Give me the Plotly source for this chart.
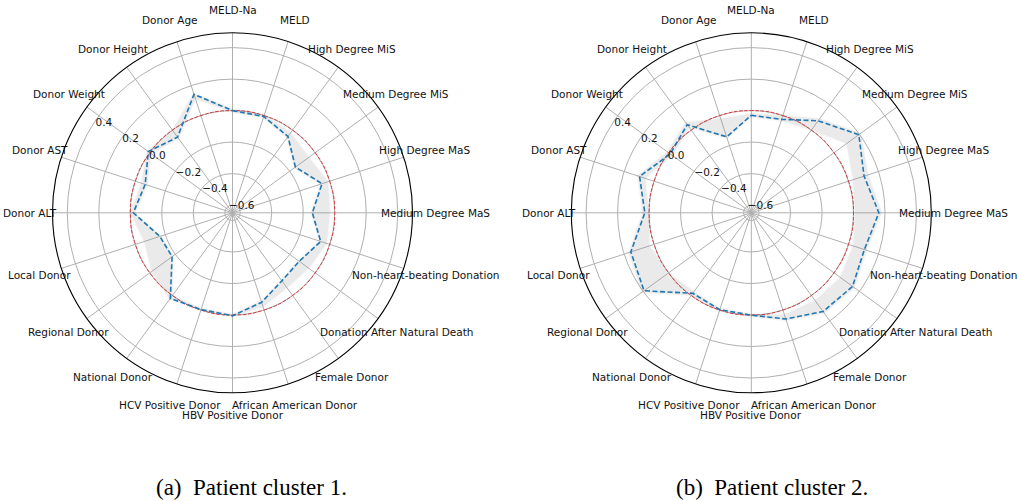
import math
import plotly.graph_objects as go

# ---------------- data ----------------
categories = [
    "MELD-Na", "MELD", "High Degree MiS", "Medium Degree MiS", "High Degree MaS",
    "Medium Degree MaS", "Non-heart-beating Donation", "Donation After Natural Death",
    "Female Donor", "African American Donor", "HBV Positive Donor", "HCV Positive Donor",
    "National Donor", "Regional Donor", "Local Donor", "Donor ALT", "Donor AST",
    "Donor Weight", "Donor Height", "Donor Age",
]

cluster1_mean = [0.000, -0.006, -0.050, -0.155, -0.051, -0.142, -0.060, -0.125, -0.115, -0.051,
                 0.005, -0.003, 0.023, -0.175, -0.164, -0.019, -0.066, 0.012, -0.055, 0.142]
cluster1_low = [-0.010, -0.015, -0.060, -0.165, -0.060, -0.150, -0.070, -0.132, -0.122, -0.060,
                -0.005, -0.010, 0.000, -0.182, -0.172, -0.030, -0.080, -0.010, -0.065, 0.110]
cluster1_high = [0.010, 0.005, -0.020, -0.050, -0.010, -0.030, -0.020, -0.050, -0.060, -0.020,
                 0.010, 0.005, 0.030, -0.015, -0.060, 0.000, -0.040, 0.020, 0.000, 0.150]

cluster2_mean = [-0.030, -0.025, 0.073, 0.195, 0.104, 0.161, 0.106, 0.146, 0.126, 0.060,
                 0.001, -0.002, -0.017, 0.193, 0.155, 0.027, 0.097, -0.013, 0.043, -0.142]
cluster2_low = [-0.040, -0.035, 0.000, 0.100, 0.030, 0.010, 0.030, 0.050, 0.040, 0.030,
                -0.005, -0.010, -0.030, 0.000, 0.030, 0.000, 0.060, -0.030, 0.020, -0.150]
cluster2_high = [-0.020, 0.000, 0.090, 0.210, 0.130, 0.180, 0.120, 0.160, 0.140, 0.070,
                 0.010, 0.010, 0.000, 0.210, 0.170, 0.040, 0.110, 0.010, 0.060, -0.020]

reference_level = 0.0
radial_ticks = [-0.6, -0.4, -0.2, 0.0, 0.2, 0.4]
radial_ticktext = ["\u22120.6", "\u22120.4", "\u22120.2", "0.0", "0.2", "0.4"]
radial_range = [-0.649, 0.494]
captions = ["(a)\u00a0 Patient cluster 1.", "(b)\u00a0 Patient cluster 2."]

# ---------------- layout geometry ----------------
W, H = 1019, 501
centers = [(232.5, 212.8), (751.3, 212.8)]
R = 180.0
label_R = 202.5
caption_y = 487.5
caption_x = [251.0, 772.0]

TEXT_FONT = dict(family="DejaVu Sans", size=10.5, color="#111111")

fig = go.Figure()

def closed(seq):
    return list(seq) + [seq[0]]

for k, (mean, low, high) in enumerate([(cluster1_mean, cluster1_low, cluster1_high),
                                       (cluster2_mean, cluster2_low, cluster2_high)]):
    sub = "polar" if k == 0 else "polar2"
    th = closed(categories)
    # uncertainty band (ring between low and high)
    fig.add_trace(go.Scatterpolar(
        r=closed(high) + closed(low)[::-1], theta=th + th[::-1],
        mode="lines", line=dict(width=0, color="rgba(0,0,0,0)"),
        fill="toself", fillcolor="rgba(140,140,140,0.13)",
        subplot=sub, showlegend=False, hoverinfo="skip"))
    # softer outer halo to mimic blurred edge
    fig.add_trace(go.Scatterpolar(
        r=closed([h + 0.008 for h in high]) + closed([l - 0.008 for l in low])[::-1],
        theta=th + th[::-1],
        mode="lines", line=dict(width=0, color="rgba(0,0,0,0)"),
        fill="toself", fillcolor="rgba(140,140,140,0.05)",
        subplot=sub, showlegend=False, hoverinfo="skip"))
    # reference circle at 0
    fig.add_trace(go.Scatterpolar(
        r=closed([reference_level] * len(categories)), theta=th,
        mode="lines", line=dict(color="rgba(214,39,40,0.85)", width=1, dash="3.7px,1.6px",
                                shape="spline", smoothing=1.3),
        subplot=sub, showlegend=False, hoverinfo="skip"))
    # mean profile
    fig.add_trace(go.Scatterpolar(
        r=closed(mean), theta=th,
        mode="lines", line=dict(color="#1f77b4", width=1.6, dash="5px,2.5px"),
        subplot=sub, showlegend=False))

def polar_layout(cx, cy):
    return dict(
        domain=dict(x=[(cx - R) / W, (cx + R) / W], y=[(H - cy - R) / H, (H - cy + R) / H]),
        bgcolor="white",
        angularaxis=dict(type="category", categoryarray=categories, direction="clockwise",
                         rotation=90, showticklabels=False, ticks="",
                         gridcolor="#b0b0b0", gridwidth=0.8,
                         showline=True, linecolor="black", linewidth=1.1),
        radialaxis=dict(range=radial_range, tickvals=radial_ticks, ticktext=radial_ticktext,
                        angle=148, tickangle=148, showline=False, ticks="",
                        gridcolor="#b0b0b0", gridwidth=0.8, tickfont=TEXT_FONT),
    )

annotations = []
n = len(categories)
for (cx, cy) in centers:
    for i, cat in enumerate(categories):
        a = math.radians(90 - 360.0 * i / n)
        px = cx + label_R * math.cos(a)
        py = cy - label_R * math.sin(a)
        annotations.append(dict(x=px / W, y=1 - py / H, xref="paper", yref="paper",
                                text=cat, showarrow=False, xanchor="center", yanchor="middle",
                                font=TEXT_FONT))
for cx, cap in zip(caption_x, captions):
    annotations.append(dict(x=cx / W, y=1 - caption_y / H, xref="paper", yref="paper",
                            text=cap, showarrow=False, xanchor="center", yanchor="middle",
                            font=dict(family="Liberation Serif", size=23, color="black")))

fig.update_layout(
    width=W, height=H, margin=dict(l=0, r=0, t=0, b=0),
    paper_bgcolor="white", plot_bgcolor="white",
    polar=polar_layout(*centers[0]), polar2=polar_layout(*centers[1]),
    annotations=annotations, showlegend=False,
)

fig.write_html("out.html", config={"displayModeBar": False},
               post_script="document.body.style.margin='0px';"
                           "document.body.style.overflow='hidden';")
